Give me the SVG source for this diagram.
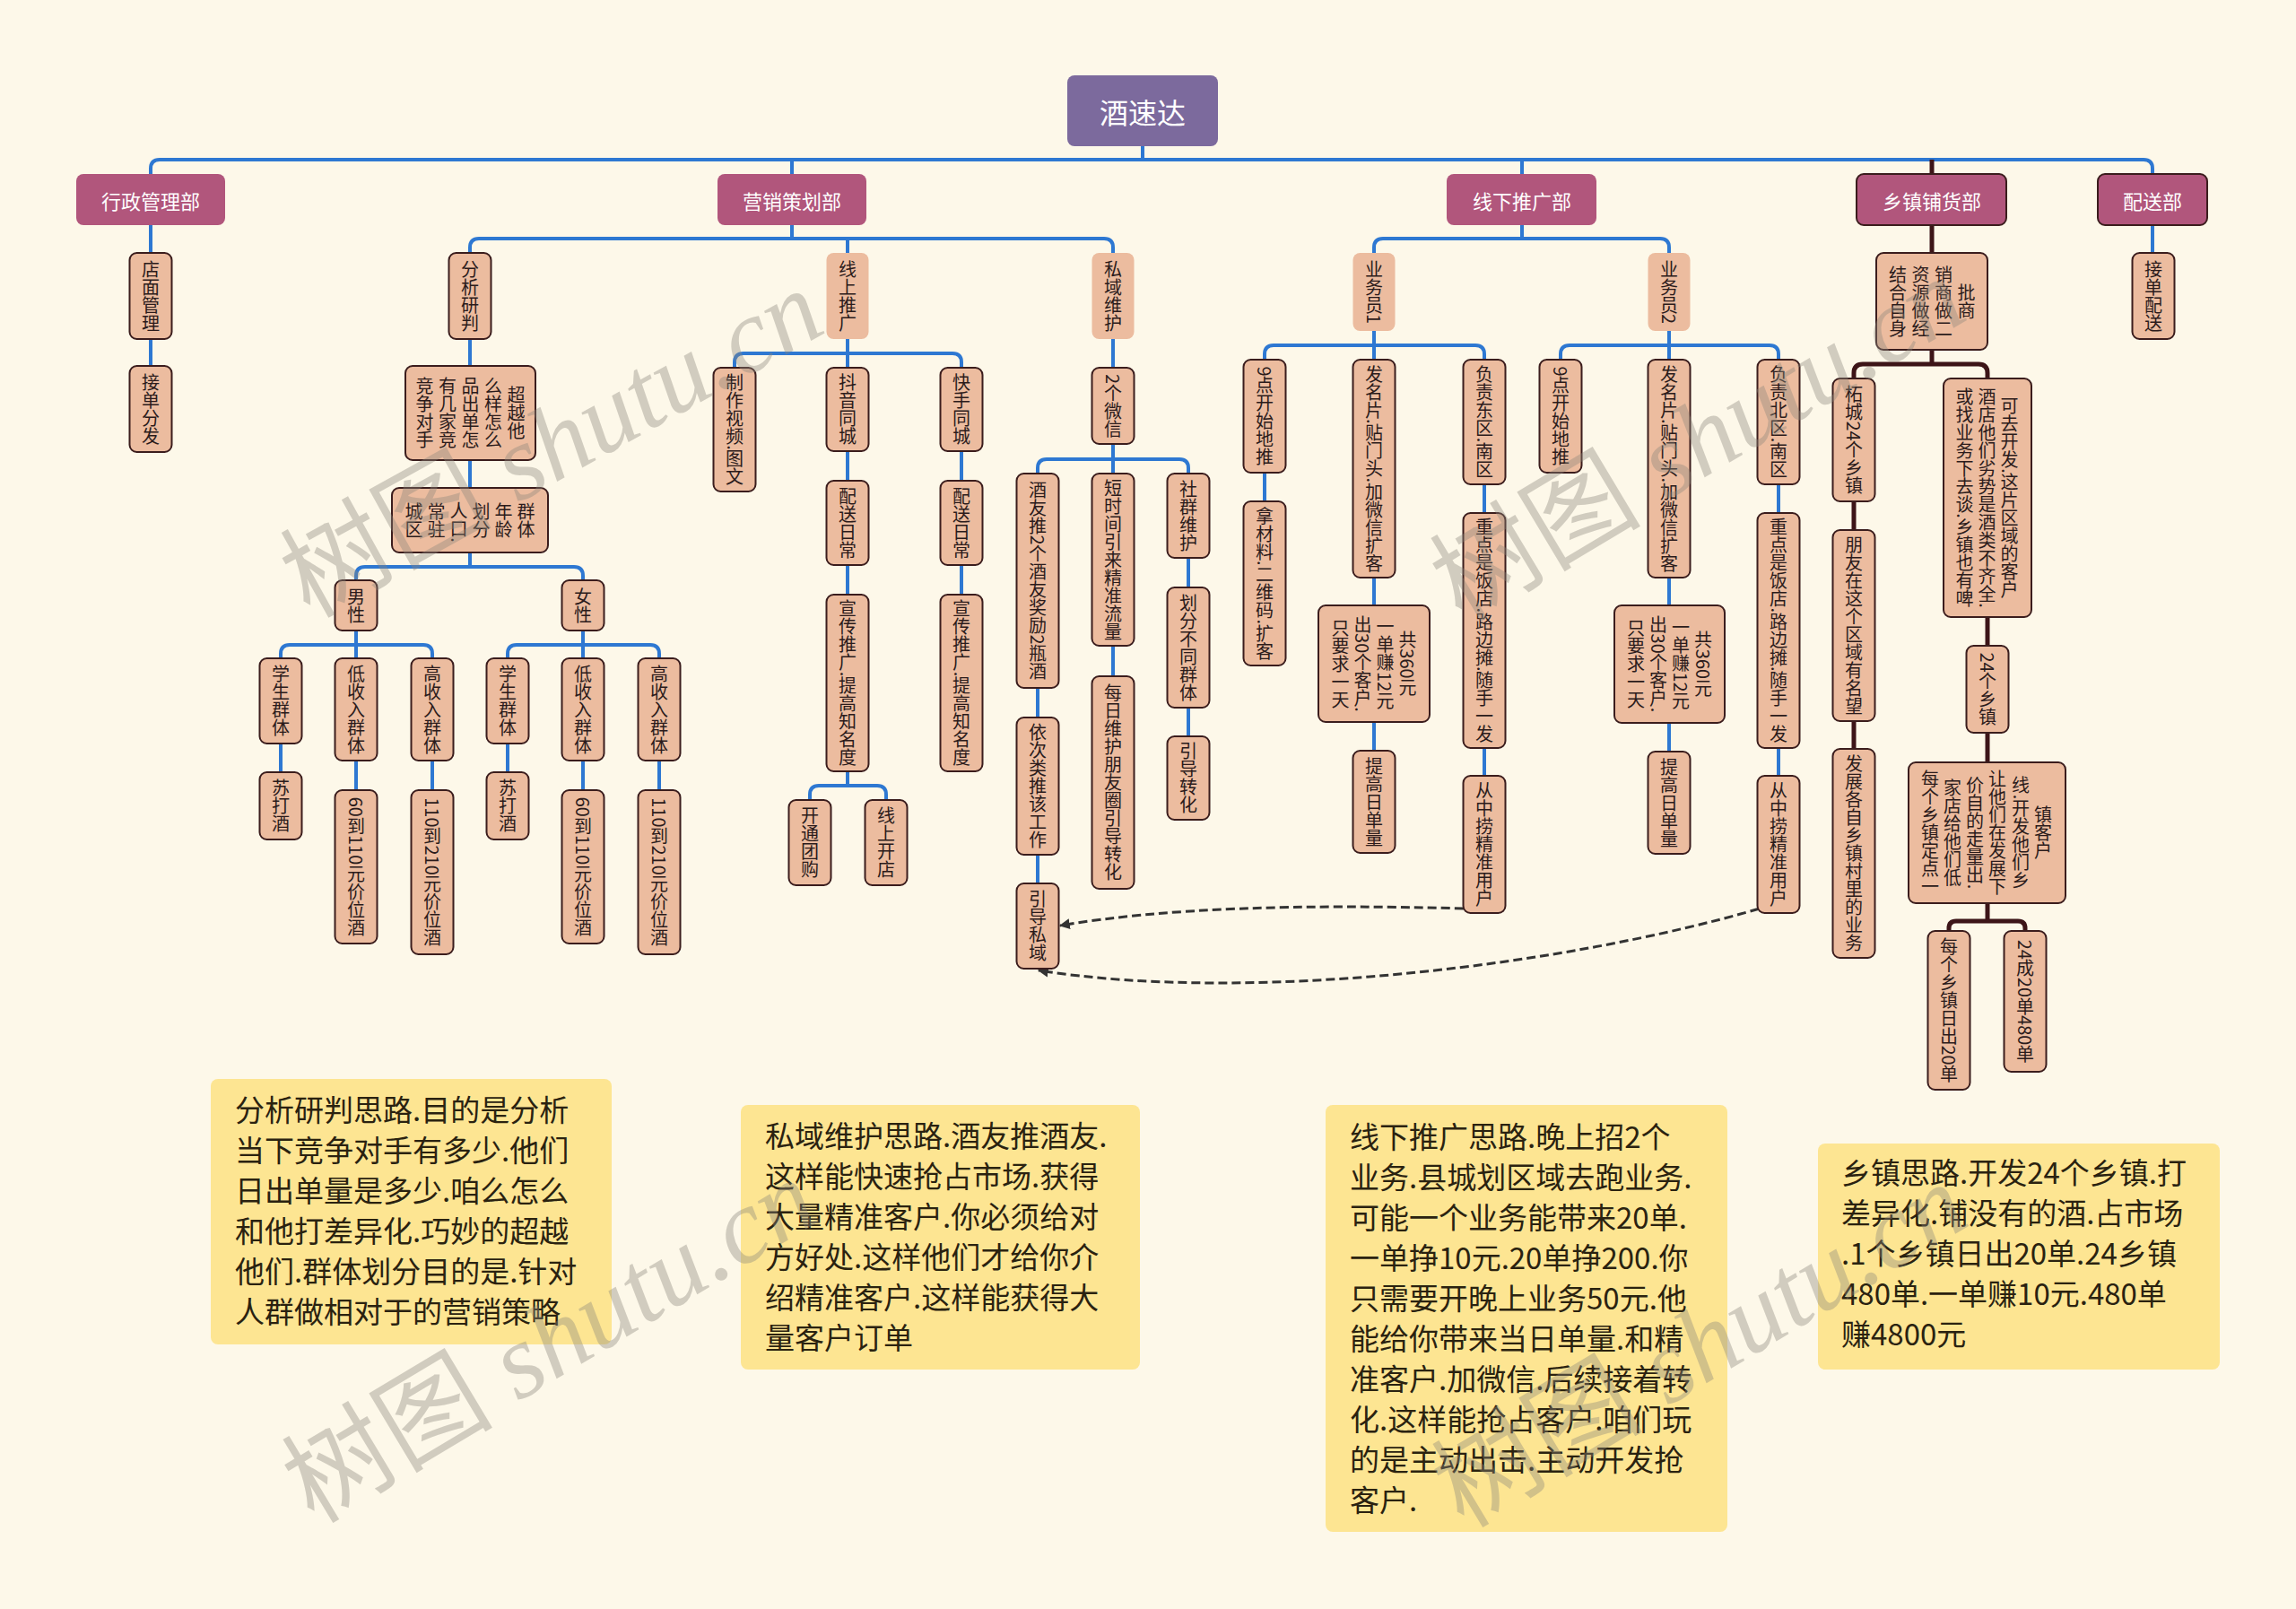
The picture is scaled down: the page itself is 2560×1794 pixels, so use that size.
<svg xmlns="http://www.w3.org/2000/svg" width="2560" height="1794" viewBox="0 0 2560 1794">
<style>
.bg{fill:#fdf8e9}
.n rect{fill:#ecbc9f;stroke:#3b1d1d;stroke-width:2}
.nb rect{fill:#ecbc9f;stroke:none}
.n text,.nb text{font-family:"Noto Sans CJK SC","Noto Sans",sans-serif;font-size:20px;fill:#2b1b1b;writing-mode:vertical-rl;text-anchor:middle}
.l1 rect{fill:#b1567c}
.l1d rect{fill:#b1567c;stroke:#3b1d1d;stroke-width:2}
.l1 text,.l1d text,.root text{font-family:"Noto Sans CJK SC","Noto Sans",sans-serif;font-size:22px;fill:#ffffff;text-anchor:middle;dominant-baseline:central}
.root rect{fill:#7c6a9d}
.root text{font-size:32px}
.c path{fill:none;stroke:#2e78d2;stroke-width:4}
.c path.d{stroke:#3d1518;stroke-width:5}
.dash{fill:none;stroke:#333;stroke-width:3;stroke-dasharray:10 5}
.note rect{fill:#fde592}
.note text{font-family:"Noto Sans CJK SC","Noto Sans",sans-serif;font-size:33px;fill:#2a2210}
.wm{font-family:"Liberation Serif","Noto Sans CJK SC",serif;font-size:118px;fill:#8c877c;opacity:0.38}
</style>
<defs>
<marker id="ah" viewBox="0 0 10 10" refX="9" refY="5" markerWidth="12" markerHeight="12" markerUnits="userSpaceOnUse" orient="auto"><path d="M0,0 L10,5 L0,10 z" fill="#333"/></marker>
</defs>
<rect class="bg" x="0" y="0" width="2560" height="1794"/>

<g id="connectors" class="c">
<path d="M1274 163 V178"/>
<path d="M168 194 V188 Q168 178 178 178 H2390 Q2400 178 2400 188 V194"/>
<path d="M883 178 V194"/><path d="M1697 178 V194"/>
<path class="d" d="M2154 178 V194"/>
<path d="M168 251 V282"/><path d="M168 378 V408"/>
<path d="M883 251 V266"/>
<path d="M524 282 V276 Q524 266 534 266 H1231 Q1241 266 1241 276 V282"/>
<path d="M945 266 V282"/>
<path d="M524 378 V408"/><path d="M524 513 V544"/><path d="M524 616 V632"/>
<path d="M397 647 V642 Q397 632 407 632 H640 Q650 632 650 642 V647"/>
<path d="M397 703 V719"/>
<path d="M313 734 V729 Q313 719 323 719 H472 Q482 719 482 729 V734"/>
<path d="M397 719 V734"/>
<path d="M650 703 V719"/>
<path d="M566 734 V729 Q566 719 576 719 H725 Q735 719 735 729 V734"/>
<path d="M650 719 V734"/>
<path d="M313 829 V861"/><path d="M397 848 V881"/><path d="M482 848 V881"/>
<path d="M566 829 V861"/><path d="M650 848 V881"/><path d="M735 848 V881"/>
<path d="M945 378 V394"/>
<path d="M819 410 V404 Q819 394 829 394 H1062 Q1072 394 1072 404 V410"/>
<path d="M945 394 V410"/>
<path d="M945 503 V536"/><path d="M945 630 V663"/><path d="M945 860 V876"/>
<path d="M903 892 V886 Q903 876 913 876 H978 Q988 876 988 886 V892"/>
<path d="M1072 503 V536"/><path d="M1072 630 V663"/>
<path d="M1241 378 V410"/><path d="M1241 495 V512"/>
<path d="M1157 528 V522 Q1157 512 1167 512 H1315 Q1325 512 1325 522 V528"/>
<path d="M1241 512 V528"/>
<path d="M1157 767 V800"/><path d="M1157 953 V985"/><path d="M1241 720 V754"/>
<path d="M1325 622 V655"/><path d="M1325 789 V821"/>
<path d="M1697 251 V266"/>
<path d="M1532 282 V276 Q1532 266 1542 266 H1851 Q1861 266 1861 276 V282"/>
<path d="M1532 369 V385"/>
<path d="M1410 401 V395 Q1410 385 1420 385 H1645 Q1655 385 1655 395 V401"/>
<path d="M1532 385 V401"/>
<path d="M1410 527 V559"/><path d="M1532 644 V675"/><path d="M1532 805 V837"/>
<path d="M1655 540 V572"/><path d="M1655 834 V865"/>
<path d="M1861 369 V385"/>
<path d="M1740 401 V395 Q1740 385 1750 385 H1973 Q1983 385 1983 395 V401"/>
<path d="M1861 385 V401"/>
<path d="M1861 644 V675"/><path d="M1861 806 V838"/>
<path d="M1983 540 V572"/><path d="M1983 834 V865"/>
<path class="d" d="M2154 251 V282"/>
<path class="d" d="M2154 390 V406"/>
<path class="d" d="M2067 422 V416 Q2067 406 2077 406 H2206 Q2216 406 2216 416 V422"/>
<path class="d" d="M2067 559 V591"/><path class="d" d="M2067 804 V835"/>
<path class="d" d="M2216 688 V720"/><path class="d" d="M2216 817 V850"/>
<path class="d" d="M2216 1007 V1027"/>
<path class="d" d="M2173 1038 V1035 Q2173 1027 2181 1027 H2250 Q2258 1027 2258 1035 V1038"/>
<path d="M2400 251 V282"/>
</g>

<g id="relations">
<path class="dash" d="M1677 1013 H1632 C1450 1008 1300 1012 1182 1032" marker-end="url(#ah)"/>
<path class="dash" d="M2006 1013 H1962 C1750 1075 1400 1120 1158 1082" marker-end="url(#ah)"/>
</g>

<g id="root" class="root"><rect x="1190" y="84" width="168" height="79" rx="8"/><text x="1274" y="124">酒速达</text></g>

<g id="d1" class="l1"><rect x="85" y="194" width="166" height="57" rx="8"/><text x="168" y="222.5">行政管理部</text></g>
<g id="d2" class="l1"><rect x="800" y="194" width="166" height="57" rx="8"/><text x="883" y="222.5">营销策划部</text></g>
<g id="d3" class="l1"><rect x="1613" y="194" width="167" height="57" rx="8"/><text x="1697" y="222.5">线下推广部</text></g>
<g id="d4" class="l1d"><rect x="2070" y="194" width="167" height="57" rx="8"/><text x="2154" y="222.5">乡镇铺货部</text></g>
<g id="d5" class="l1d"><rect x="2339" y="194" width="122" height="57" rx="8"/><text x="2400" y="222.5">配送部</text></g>

<g id="a1" class="n"><rect x="144.5" y="282" width="47" height="96" rx="8"/><text x="168" y="330">店面管理</text></g>
<g id="a2" class="n"><rect x="144.5" y="408" width="47" height="96" rx="8"/><text x="168" y="456">接单分发</text></g>

<g id="b1" class="n"><rect x="500.5" y="282" width="47" height="96" rx="8"/><text x="524" y="330">分析研判</text></g>
<g id="b2" class="n"><rect x="452" y="408" width="145" height="105" rx="8"/>
<text x="473.5" y="460.5">竞争对手</text><text x="499" y="460.5">有几家竞</text><text x="524.5" y="460.5">品出单怎</text><text x="550" y="460.5">么样怎么</text><text x="575.5" y="460.5">超越他</text></g>
<g id="b3" class="n"><rect x="437" y="544" width="174" height="72" rx="8"/>
<text x="461.5" y="580">城区</text><text x="486.5" y="580">常驻</text><text x="511.5" y="582">人口.</text><text x="536.5" y="580">划分</text><text x="561.5" y="580">年龄</text><text x="586.5" y="580">群体</text></g>
<g id="b4" class="n"><rect x="373.5" y="647" width="47" height="56" rx="8"/><text x="397" y="675">男性</text></g>
<g id="b5" class="n"><rect x="626.5" y="647" width="47" height="56" rx="8"/><text x="650" y="675">女性</text></g>
<g id="b6" class="n"><rect x="289.5" y="734" width="47" height="95" rx="8"/><text x="313" y="781.5">学生群体</text></g>
<g id="b7" class="n"><rect x="373.5" y="734" width="47" height="114" rx="8"/><text x="397" y="791">低收入群体</text></g>
<g id="b8" class="n"><rect x="458.5" y="734" width="47" height="114" rx="8"/><text x="482" y="791">高收入群体</text></g>
<g id="b9" class="n"><rect x="289.5" y="861" width="47" height="75" rx="8"/><text x="313" y="898.5">苏打酒</text></g>
<g id="b10" class="n"><rect x="373.5" y="881" width="47" height="171" rx="8"/><text x="397" y="966.5">60到110元价位酒</text></g>
<g id="b11" class="n"><rect x="458.5" y="881" width="47" height="183" rx="8"/><text x="482" y="972.5">110到210元价位酒</text></g>
<g id="b12" class="n"><rect x="542.5" y="734" width="47" height="95" rx="8"/><text x="566" y="781.5">学生群体</text></g>
<g id="b13" class="n"><rect x="626.5" y="734" width="47" height="114" rx="8"/><text x="650" y="791">低收入群体</text></g>
<g id="b14" class="n"><rect x="711.5" y="734" width="47" height="114" rx="8"/><text x="735" y="791">高收入群体</text></g>
<g id="b15" class="n"><rect x="542.5" y="861" width="47" height="75" rx="8"/><text x="566" y="898.5">苏打酒</text></g>
<g id="b16" class="n"><rect x="626.5" y="881" width="47" height="171" rx="8"/><text x="650" y="966.5">60到110元价位酒</text></g>
<g id="b17" class="n"><rect x="711.5" y="881" width="47" height="183" rx="8"/><text x="735" y="972.5">110到210元价位酒</text></g>

<g id="c1" class="nb"><rect x="921.5" y="282" width="47" height="96" rx="8"/><text x="945" y="330">线上推广</text></g>
<g id="c2" class="n"><rect x="795.5" y="410" width="47" height="138" rx="8"/><text x="819" y="479">制作视频.图文</text></g>
<g id="c3" class="n"><rect x="921.5" y="410" width="47" height="93" rx="8"/><text x="945" y="456.5">抖音同城</text></g>
<g id="c4" class="n"><rect x="921.5" y="536" width="47" height="94" rx="8"/><text x="945" y="583">配送日常</text></g>
<g id="c5" class="n"><rect x="921.5" y="663" width="47" height="197" rx="8"/><text x="945" y="761.5">宣传推广.提高知名度</text></g>
<g id="c6" class="n"><rect x="879.5" y="892" width="47" height="95" rx="8"/><text x="903" y="939.5">开通团购</text></g>
<g id="c7" class="n"><rect x="964.5" y="892" width="47" height="95" rx="8"/><text x="988" y="939.5">线上开店</text></g>
<g id="c8" class="n"><rect x="1048.5" y="410" width="47" height="93" rx="8"/><text x="1072" y="456.5">快手同城</text></g>
<g id="c9" class="n"><rect x="1048.5" y="536" width="47" height="94" rx="8"/><text x="1072" y="583">配送日常</text></g>
<g id="c10" class="n"><rect x="1048.5" y="663" width="47" height="197" rx="8"/><text x="1072" y="761.5">宣传推广.提高知名度</text></g>

<g id="e1" class="nb"><rect x="1217.5" y="282" width="47" height="96" rx="8"/><text x="1241" y="330">私域维护</text></g>
<g id="e2" class="n"><rect x="1217.5" y="410" width="47" height="85" rx="8"/><text x="1241" y="452.5">2个微信</text></g>
<g id="e3" class="n"><rect x="1133.5" y="528" width="47" height="239" rx="8"/><text x="1157" y="647.5">酒友推2个酒友奖励2瓶酒</text></g>
<g id="e4" class="n"><rect x="1133.5" y="800" width="47" height="153" rx="8"/><text x="1157" y="876.5">依次类推该工作</text></g>
<g id="e5" class="n"><rect x="1133.5" y="985" width="47" height="95" rx="8"/><text x="1157" y="1032.5">引导私域</text></g>
<g id="e6" class="n"><rect x="1217.5" y="528" width="47" height="192" rx="8"/><text x="1241" y="624">短时间引来精准流量</text></g>
<g id="e7" class="n"><rect x="1217.5" y="754" width="47" height="237" rx="8"/><text x="1241" y="872.5">每日维护朋友圈引导转化</text></g>
<g id="e8" class="n"><rect x="1301.5" y="528" width="47" height="94" rx="8"/><text x="1325" y="575">社群维护</text></g>
<g id="e9" class="n"><rect x="1301.5" y="655" width="47" height="134" rx="8"/><text x="1325" y="722">划分不同群体</text></g>
<g id="e10" class="n"><rect x="1301.5" y="821" width="47" height="93" rx="8"/><text x="1325" y="867.5">引导转化</text></g>

<g id="f1" class="nb"><rect x="1508.5" y="282" width="47" height="87" rx="8"/><text x="1532" y="325.5">业务员1</text></g>
<g id="f2" class="n"><rect x="1386.5" y="401" width="47" height="126" rx="8"/><text x="1410" y="464">9点开始地推</text></g>
<g id="f3" class="n"><rect x="1386.5" y="559" width="47" height="183" rx="8"/><text x="1410" y="650.5">拿材料.二维码.扩客</text></g>
<g id="f4" class="n"><rect x="1508.5" y="401" width="47" height="243" rx="8"/><text x="1532" y="522.5">发名片.贴门头.加微信扩客</text></g>
<g id="f5" class="n"><rect x="1470" y="675" width="124" height="130" rx="8"/>
<text x="1494.5" y="740">只要求一天</text><text x="1519.5" y="740">出30个客户.</text><text x="1544.5" y="740">一单赚12元</text><text x="1569.5" y="740">共360元</text></g>
<g id="f6" class="n"><rect x="1508.5" y="837" width="47" height="114" rx="8"/><text x="1532" y="894">提高日单量</text></g>
<g id="f7" class="n"><rect x="1631.5" y="401" width="47" height="139" rx="8"/><text x="1655" y="470.5">负责东区.南区</text></g>
<g id="f8" class="n"><rect x="1631.5" y="572" width="47" height="262" rx="8"/><text x="1655" y="703">重点是饭店.路边摊.随手一发</text></g>
<g id="f9" class="n"><rect x="1631.5" y="865" width="47" height="153" rx="8"/><text x="1655" y="941.5">从中捞精准用户</text></g>

<g id="g1" class="nb"><rect x="1837.5" y="282" width="47" height="87" rx="8"/><text x="1861" y="325.5">业务员2</text></g>
<g id="g2" class="n"><rect x="1716.5" y="401" width="47" height="126" rx="8"/><text x="1740" y="464">9点开始地推</text></g>
<g id="g4" class="n"><rect x="1837.5" y="401" width="47" height="243" rx="8"/><text x="1861" y="522.5">发名片.贴门头.加微信扩客</text></g>
<g id="g5" class="n"><rect x="1800" y="675" width="123" height="131" rx="8"/>
<text x="1824" y="740.5">只要求一天</text><text x="1849" y="740.5">出30个客户.</text><text x="1874" y="740.5">一单赚12元</text><text x="1899" y="740.5">共360元</text></g>
<g id="g6" class="n"><rect x="1837.5" y="838" width="47" height="114" rx="8"/><text x="1861" y="895">提高日单量</text></g>
<g id="g7" class="n"><rect x="1959.5" y="401" width="47" height="139" rx="8"/><text x="1983" y="470.5">负责北区.南区</text></g>
<g id="g8" class="n"><rect x="1959.5" y="572" width="47" height="262" rx="8"/><text x="1983" y="703">重点是饭店.路边摊.随手一发</text></g>
<g id="g9" class="n"><rect x="1959.5" y="865" width="47" height="153" rx="8"/><text x="1983" y="941.5">从中捞精准用户</text></g>

<g id="h1" class="n"><rect x="2092" y="282" width="124" height="108" rx="8"/>
<text x="2116" y="336">结合自身</text><text x="2141.5" y="336">资源做经</text><text x="2167" y="336">销商做二</text><text x="2192.5" y="336">批商</text></g>
<g id="h2" class="n"><rect x="2043.5" y="422" width="47" height="137" rx="8"/><text x="2067" y="490.5">柘城24个乡镇</text></g>
<g id="h3" class="n"><rect x="2043.5" y="591" width="47" height="213" rx="8"/><text x="2067" y="697.5">朋友在这个区域有名望</text></g>
<g id="h4" class="n"><rect x="2043.5" y="835" width="47" height="233" rx="8"/><text x="2067" y="951.5">发展各自乡镇村里的业务</text></g>
<g id="h5" class="n"><rect x="2167" y="422" width="98" height="266" rx="8"/>
<text x="2190.5" y="555">或找业务下去谈.乡镇也有啤</text><text x="2215.5" y="555">酒店他们劣势是酒类不齐全.</text><text x="2240.5" y="555">可去开发.这片区域的客户</text></g>
<g id="h6" class="n"><rect x="2192.5" y="720" width="47" height="97" rx="8"/><text x="2216" y="768.5">24个乡镇</text></g>
<g id="h7" class="n"><rect x="2128" y="850" width="175" height="157" rx="8"/>
<text x="2152" y="928.5">每个乡镇定点一</text><text x="2177" y="928.5">家店给他们低</text><text x="2202" y="928.5">价自的走量出.</text><text x="2227" y="928.5">让他们在发展下</text><text x="2253" y="928.5">线.开发他们乡</text><text x="2278" y="928.5">镇客户</text></g>
<g id="h8" class="n"><rect x="2149.5" y="1038" width="47" height="177" rx="8"/><text x="2173" y="1126.5">每个乡镇日出20单</text></g>
<g id="h9" class="n"><rect x="2234.5" y="1038" width="47" height="157" rx="8"/><text x="2258" y="1116.5">24成20单480单</text></g>

<g id="i1" class="n"><rect x="2377.5" y="282" width="47" height="96" rx="8"/><text x="2401" y="330">接单配送</text></g>

<g id="note1" class="note"><rect x="235" y="1203" width="447" height="296" rx="8"/>
<text x="262" y="1250">分析研判思路.目的是分析</text>
<text x="262" y="1295">当下竞争对手有多少.他们</text>
<text x="262" y="1340">日出单量是多少.咱么怎么</text>
<text x="262" y="1385">和他打差异化.巧妙的超越</text>
<text x="262" y="1430">他们.群体划分目的是.针对</text>
<text x="262" y="1475">人群做相对于的营销策略</text></g>
<g id="note2" class="note"><rect x="826" y="1232" width="445" height="295" rx="8"/>
<text x="853" y="1279">私域维护思路.酒友推酒友.</text>
<text x="853" y="1324">这样能快速抢占市场.获得</text>
<text x="853" y="1369">大量精准客户.你必须给对</text>
<text x="853" y="1414">方好处.这样他们才给你介</text>
<text x="853" y="1459">绍精准客户.这样能获得大</text>
<text x="853" y="1504">量客户订单</text></g>
<g id="note3" class="note"><rect x="1478" y="1232" width="448" height="476" rx="8"/>
<text x="1505" y="1280">线下推广思路.晚上招2个</text>
<text x="1505" y="1325">业务.县城划区域去跑业务.</text>
<text x="1505" y="1370">可能一个业务能带来20单.</text>
<text x="1505" y="1415">一单挣10元.20单挣200.你</text>
<text x="1505" y="1460">只需要开晚上业务50元.他</text>
<text x="1505" y="1505">能给你带来当日单量.和精</text>
<text x="1505" y="1550">准客户.加微信.后续接着转</text>
<text x="1505" y="1595">化.这样能抢占客户.咱们玩</text>
<text x="1505" y="1640">的是主动出击.主动开发抢</text>
<text x="1505" y="1685">客户.</text></g>
<g id="note4" class="note"><rect x="2027" y="1275" width="448" height="252" rx="8"/>
<text x="2053" y="1320">乡镇思路.开发24个乡镇.打</text>
<text x="2053" y="1365">差异化.铺没有的酒.占市场</text>
<text x="2053" y="1410">.1个乡镇日出20单.24乡镇</text>
<text x="2053" y="1455">480单.一单赚10元.480单</text>
<text x="2053" y="1500">赚4800元</text></g>

<g id="watermark">
<text class="wm" transform="translate(345,690) rotate(-29)">树图 <tspan font-style="italic">shutu.cn</tspan></text>
<text class="wm" transform="translate(1630,695) rotate(-31)">树图 <tspan font-style="italic">shutu.cn</tspan></text>
<text class="wm" transform="translate(350,1700) rotate(-31)">树图 <tspan font-style="italic">shutu.cn</tspan></text>
<text class="wm" transform="translate(1632,1705) rotate(-31)">树图 <tspan font-style="italic">shutu.cn</tspan></text>
</g>
</svg>
